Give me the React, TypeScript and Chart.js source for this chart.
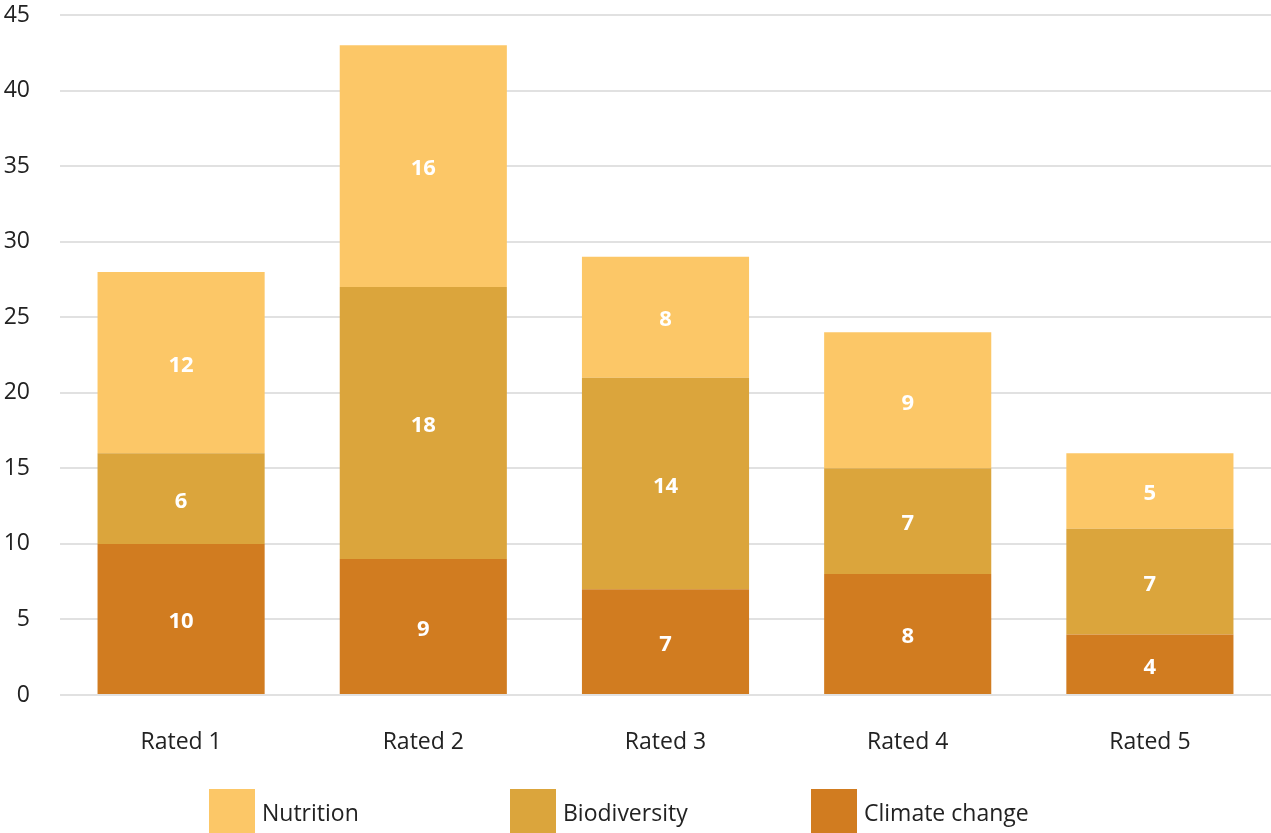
import React, { useEffect, useRef } from "react";
import { Chart, registerables } from "chart.js";

Chart.register(...registerables);

const categories = ["Rated 1", "Rated 2", "Rated 3", "Rated 4", "Rated 5"];
const climateChange = [10, 9, 7, 8, 4];
const biodiversity = [6, 18, 14, 7, 7];
const nutrition = [12, 16, 8, 9, 5];
const seriesNames = ["Climate change", "Biodiversity", "Nutrition"];
const seriesColors = ["#D17C20", "#DBA53C", "#FCC767"];
const legendOrder = [2, 1, 0];

const FONT = "'Open Sans', 'Noto Sans', sans-serif";

const valueLabels = {
  id: "valueLabels",
  afterDatasetsDraw(chart: any) {
    const ctx = chart.ctx;
    ctx.save();
    ctx.fillStyle = "#ffffff";
    ctx.font = `bold 22px ${FONT}`;
    ctx.textAlign = "center";
    ctx.textBaseline = "middle";
    chart.data.datasets.forEach((ds: any, i: number) => {
      const meta = chart.getDatasetMeta(i);
      meta.data.forEach((el: any, j: number) => {
        const v = ds.data[j];
        if (!v) return;
        ctx.fillText(String(v), el.x, (el.y + el.base) / 2 + 3);
      });
    });
    ctx.restore();
  },
};

const bottomLegend = {
  id: "bottomLegend",
  afterDraw(chart: any) {
    const ctx = chart.ctx;
    const area = chart.chartArea;
    ctx.save();
    ctx.font = `23px ${FONT}`;
    ctx.textBaseline = "middle";
    ctx.textAlign = "left";
    legendOrder.forEach((idx, k) => {
      const x = area.left + 149 + k * 301;
      const y = area.bottom + 94;
      ctx.fillStyle = seriesColors[idx];
      ctx.fillRect(x, y, 46, 46);
      ctx.fillStyle = "#222222";
      ctx.fillText(seriesNames[idx], x + 53, y + 25);
    });
    ctx.restore();
  },
};

export default function App() {
  const ref = useRef<HTMLCanvasElement | null>(null);
  useEffect(() => {
    if (!ref.current) return;
    const series = [climateChange, biodiversity, nutrition];
    const chart = new Chart(ref.current, {
      type: "bar",
      data: {
        labels: categories,
        datasets: series.map((d, i) => ({
          label: seriesNames[i],
          data: d,
          backgroundColor: seriesColors[i],
          borderWidth: 0,
          categoryPercentage: 1,
          barPercentage: 0.69,
        })),
      },
      options: {
        responsive: false,
        animation: false,
        maintainAspectRatio: false,
        layout: { padding: { top: 15, left: 0, right: 0, bottom: 0 } },
        plugins: {
          legend: { display: false },
          tooltip: { enabled: false },
        },
        scales: {
          x: {
            stacked: true,
            grid: { display: false, drawTicks: false },
            border: { display: false },
            ticks: {
              color: "#222222",
              font: { family: FONT, size: 23 },
              padding: 34,
            },
            afterFit(scale: any) {
              scale.height = 138;
              scale.paddingLeft = 0;
              scale.paddingRight = 0;
            },
          },
          y: {
            stacked: true,
            min: 0,
            max: 45,
            ticks: {
              stepSize: 5,
              color: "#222222",
              font: { family: FONT, size: 23 },
              padding: 30,
            },
            grid: { color: "#E1E1E1", lineWidth: 2, drawTicks: false },
            border: { display: false },
            afterFit(scale: any) {
              scale.width = 60;
              scale.paddingTop = 0;
              scale.paddingBottom = 0;
            },
          },
        },
      },
      plugins: [valueLabels, bottomLegend],
    });
    return () => chart.destroy();
  }, []);
  return (
    <div style={{ position: "absolute", left: 0, top: 0, width: 1271, height: 833, background: "#fff" }}>
      <canvas ref={ref} width={1271} height={833} style={{ display: "block" }} />
    </div>
  );
}
